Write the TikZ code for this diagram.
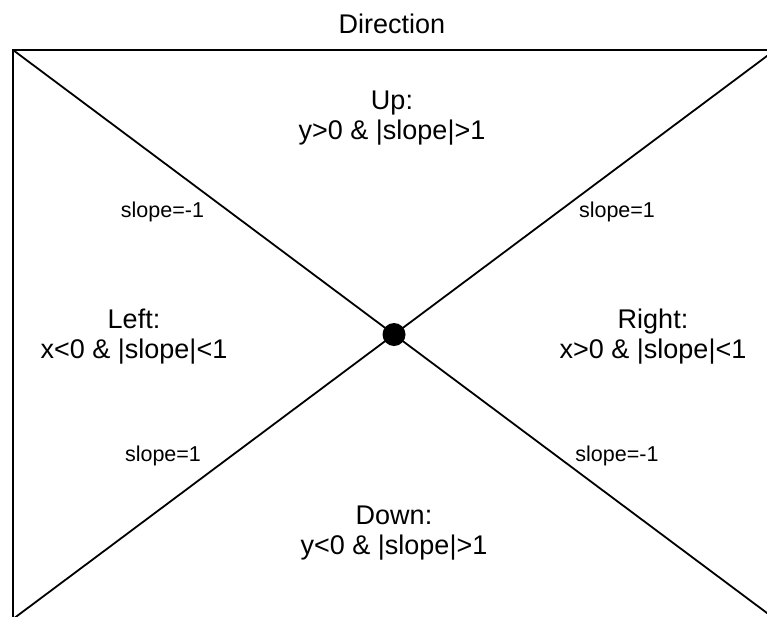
\documentclass[tikz,border=0pt]{standalone}
\usepackage{fontspec}
\setmainfont{Liberation Sans}
\begin{document}
\begin{tikzpicture}[x=1pt,y=-1pt,
  edge/.style={line width=1.8pt, black},
  bigtxt/.style={font=\fontsize{27}{30}\selectfont, inner sep=0pt, align=center, anchor=base},
  smalltxt/.style={font=\fontsize{21.5}{24}\selectfont, inner sep=0pt, anchor=base}]
\useasboundingbox[fill=white] (0,0) rectangle (767,616);
\coordinate (tl) at (13,50);
\coordinate (tr) at (775,50);
\coordinate (bl) at (13,619);
\coordinate (br) at (775,619);
\draw[edge] (tl) -- (tr) -- (br) -- (bl) -- cycle;
\draw[edge] (tl) -- (br);
\draw[edge] (tr) -- (bl);
\node[circle, fill=black, minimum size=23pt, inner sep=0pt] (dot) at (394,334.5) {};
\node[bigtxt] (title) at (392,33) {Direction};
\node[bigtxt] (up) at (392,139) {Up:\\y>0 \& |slope|>1};
\node[bigtxt] (down) at (394,554) {Down:\\y<0 \& |slope|>1};
\node[bigtxt] (left) at (134,358) {Left:\\x<0 \& |slope|<1};
\node[bigtxt] (right) at (653,358) {Right:\\x>0 \& |slope|<1};
\node[smalltxt] (s1) at (162.5,217) {slope=-1};
\node[smalltxt] (s2) at (617,217) {slope=1};
\node[smalltxt] (s3) at (163,461) {slope=1};
\node[smalltxt] (s4) at (617,461) {slope=-1};
\end{tikzpicture}
\end{document}
